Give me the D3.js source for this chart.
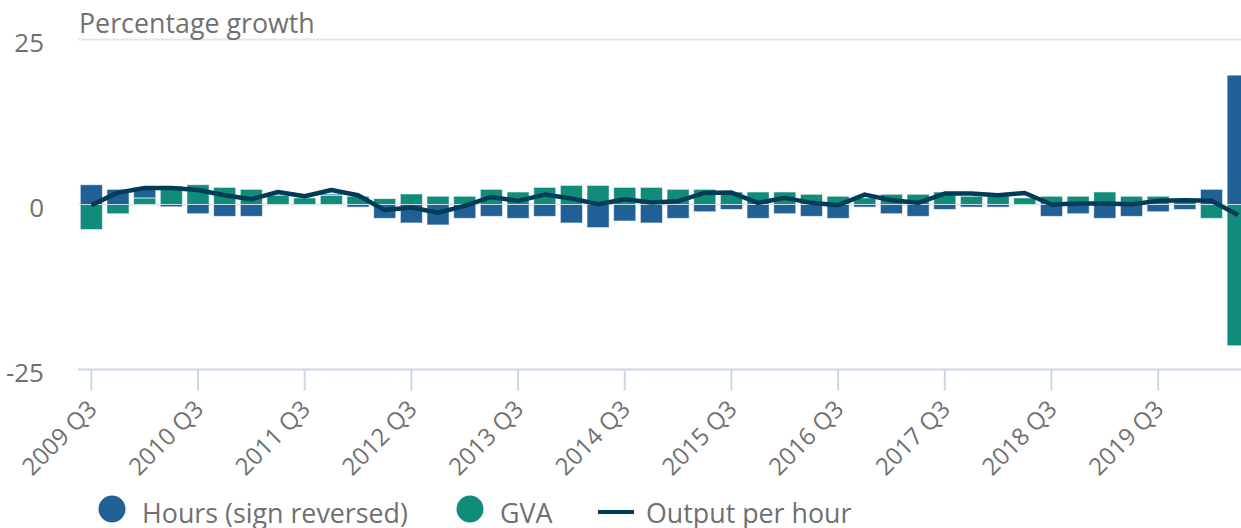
<!DOCTYPE html>
<html>
<head>
<meta charset="utf-8">
<script src="https://cdn.jsdelivr.net/npm/d3@7"></script>
<style>
  html, body { margin: 0; padding: 0; background: #fff; overflow: hidden; }
  svg { display: block; font-family: 'Open Sans', sans-serif; }
</style>
</head>
<body>
<svg id="chart"></svg>
<script>
// Quarters shown on the x axis (2009 Q3 to 2020 Q2)
const quarters = [
  '2009 Q3', '2009 Q4', '2010 Q1', '2010 Q2', '2010 Q3', '2010 Q4', '2011 Q1', '2011 Q2',
  '2011 Q3', '2011 Q4', '2012 Q1', '2012 Q2', '2012 Q3', '2012 Q4', '2013 Q1', '2013 Q2',
  '2013 Q3', '2013 Q4', '2014 Q1', '2014 Q2', '2014 Q3', '2014 Q4', '2015 Q1', '2015 Q2',
  '2015 Q3', '2015 Q4', '2016 Q1', '2016 Q2', '2016 Q3', '2016 Q4', '2017 Q1', '2017 Q2',
  '2017 Q3', '2017 Q4', '2018 Q1', '2018 Q2', '2018 Q3', '2018 Q4', '2019 Q1', '2019 Q2',
  '2019 Q3', '2019 Q4', '2020 Q1', '2020 Q2'
];
const tickLabels = ['2009 Q3', '2010 Q3', '2011 Q3', '2012 Q3', '2013 Q3', '2014 Q3',
  '2015 Q3', '2016 Q3', '2017 Q3', '2018 Q3', '2019 Q3'];
const yTicks = [-25, 0, 25];

const hoursReversed = [3.0, 2.3, 1.6, -0.35, -1.4, -1.8, -1.8, 0.0, 0.0, 0.2, -0.4, -2.1,
  -2.8, -3.1, -2.1, -1.8, -2.1, -1.8, -2.8, -3.5, -2.5, -2.8, -2.1, -1.1, -0.75, -2.1,
  -1.4, -1.8, -2.1, -0.4, -1.4, -1.8, -0.75, -0.4, -0.4, 0.0, -1.8, -1.4, -2.1, -1.8,
  -1.1, -0.75, 2.3, 19.6];
const gva = [-3.8, -1.4, 1.0, 2.8, 3.0, 2.6, 2.3, 1.4, 1.0, 1.4, 1.25, 0.9, 1.6, 1.25,
  1.25, 2.3, 1.9, 2.6, 2.9, 2.9, 2.6, 2.6, 2.3, 2.3, 1.9, 1.9, 1.9, 1.55, 1.25, 1.0,
  1.55, 1.55, 1.9, 1.25, 1.25, 1.0, 1.25, 1.25, 1.9, 1.25, 1.25, 0.9, -2.1, -21.4];
const outputPerHour = [-0.1, 1.8, 2.5, 2.5, 2.2, 1.4, 0.8, 1.9, 1.25, 2.2, 1.4, -0.85,
  -0.45, -1.25, -0.2, 1.15, 0.55, 1.5, 0.9, 0.05, 0.8, 0.3, 0.5, 1.75, 1.8, 0.25, 1.0,
  0.25, -0.1, 1.5, 0.65, 0.25, 1.65, 1.65, 1.4, 1.75, 0.0, 0.15, 0.15, 0.05, 0.55, 0.65,
  0.55, -1.6];

const colors = { hours: '#206095', gva: '#118c7b', line: '#003c57' };
const textColor = '#707070';

const width = 1241;
const height = 528;
const plot = { left: 78, right: 1251.5, top: 39.5, bottom: 369.5 };

const svg = d3.select('#chart').attr('width', width).attr('height', height);

// Scales
const xScale = d3.scaleBand()
  .domain(quarters)
  .range([plot.left, plot.right])
  .paddingInner(0.17)
  .paddingOuter(0.085);

const yScale = d3.scaleLinear()
  .domain([-25, 25])
  .range([plot.bottom, plot.top]);

const center = (q) => xScale(q) + xScale.bandwidth() / 2;

// Gridlines
svg.append('g')
  .selectAll('line')
  .data(yTicks.filter((d) => d !== -25))
  .enter()
  .append('line')
  .attr('x1', plot.left)
  .attr('x2', width)
  .attr('y1', (d) => yScale(d))
  .attr('y2', (d) => yScale(d))
  .attr('stroke', '#e6e6e6')
  .attr('stroke-width', 2);

// Y axis labels
svg.append('g')
  .selectAll('text')
  .data(yTicks)
  .enter()
  .append('text')
  .attr('x', 44)
  .attr('y', (d) => yScale(d) + 12)
  .attr('text-anchor', 'end')
  .attr('fill', textColor)
  .style('font-size', '26px')
  .text((d) => d);

// Title
svg.append('text')
  .attr('x', 79)
  .attr('y', 33)
  .attr('fill', textColor)
  .style('font-size', '26.8px')
  .text('Percentage growth');

// Stack positives and negatives separately, GVA next to zero then hours
const stacked = [];
quarters.forEach((q, i) => {
  let pos = 0;
  let neg = 0;
  [['gva', gva[i]], ['hours', hoursReversed[i]]].forEach(([key, v]) => {
    const base = v >= 0 ? pos : neg;
    const top = base + v;
    stacked.push({ q, key, y0: base, y1: top });
    if (v >= 0) pos = top; else neg = top;
  });
});

svg.append('g')
  .selectAll('rect')
  .data(stacked)
  .enter()
  .append('rect')
  .attr('x', (d) => xScale(d.q))
  .attr('width', xScale.bandwidth())
  .attr('y', (d) => yScale(Math.max(d.y0, d.y1)))
  .attr('height', (d) => Math.abs(yScale(d.y0) - yScale(d.y1)))
  .attr('fill', (d) => colors[d.key])
  .attr('stroke', '#fff')
  .attr('stroke-opacity', 0.6)
  .attr('stroke-width', 1);

// Output per hour line
const line = d3.line()
  .x((d, i) => center(quarters[i]))
  .y((d) => yScale(d));

svg.append('path')
  .datum(outputPerHour)
  .attr('d', line)
  .attr('fill', 'none')
  .attr('stroke', colors.line)
  .attr('stroke-width', 4.5)
  .attr('stroke-linejoin', 'round');

// X axis
const xAxis = svg.append('g');
xAxis.append('line')
  .attr('x1', plot.left)
  .attr('x2', width)
  .attr('y1', plot.bottom)
  .attr('y2', plot.bottom)
  .attr('stroke', '#ccd6eb')
  .attr('stroke-width', 2);

xAxis.selectAll('.tick')
  .data(tickLabels)
  .enter()
  .append('line')
  .attr('x1', (d) => center(d))
  .attr('x2', (d) => center(d))
  .attr('y1', plot.bottom)
  .attr('y2', plot.bottom + 21)
  .attr('stroke', '#ccd6eb')
  .attr('stroke-width', 2);

xAxis.selectAll('.label')
  .data(tickLabels)
  .enter()
  .append('text')
  .attr('transform', (d) => `translate(${center(d) + 7}, ${plot.bottom + 41}) rotate(-45)`)
  .attr('text-anchor', 'end')
  .attr('fill', textColor)
  .style('font-size', '24px')
  .text((d) => d);

// Legend
const legend = svg.append('g');
legend.append('circle').attr('cx', 112).attr('cy', 509).attr('r', 13.5).attr('fill', colors.hours);
legend.append('text').attr('x', 142).attr('y', 523).attr('fill', textColor)
  .style('font-size', '26.8px').text('Hours (sign reversed)');
legend.append('circle').attr('cx', 470).attr('cy', 509).attr('r', 13.5).attr('fill', colors.gva);
legend.append('text').attr('x', 500).attr('y', 523).attr('fill', textColor)
  .style('font-size', '26.8px').text('GVA');
legend.append('line').attr('x1', 598).attr('x2', 634).attr('y1', 512).attr('y2', 512)
  .attr('stroke', colors.line).attr('stroke-width', 4);
legend.append('text').attr('x', 646).attr('y', 523).attr('fill', textColor)
  .style('font-size', '26.8px').text('Output per hour');
</script>
</body>
</html>
